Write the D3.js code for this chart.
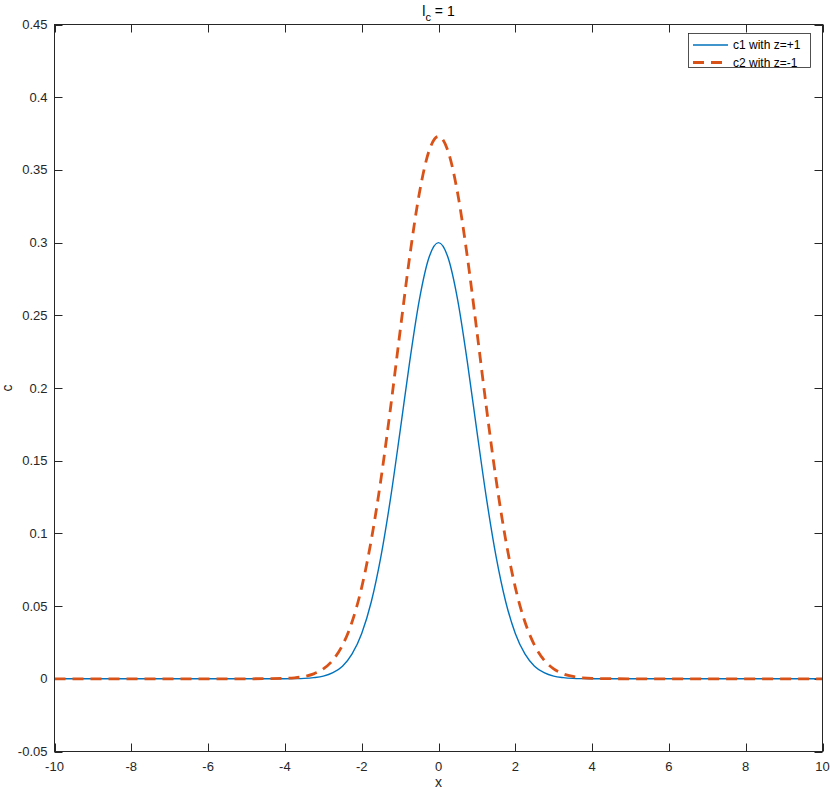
<!DOCTYPE html>
<html><head><meta charset="utf-8">
<script src="https://cdn.jsdelivr.net/npm/d3@7"></script>
<style>body{margin:0;background:#fff}svg{display:block;font-family:"Liberation Sans",Arial,sans-serif}</style>
</head><body><svg id="c" width="830" height="789"></svg>
<script>
const xValues = [-10,-8,-6,-5,-4.5,-4,-3.75,-3.5,-3.25,-3,-2.75,-2.5,-2.25,-2,-1.75,-1.5,-1.25,-1,-0.75,-0.5,-0.25,0,0.25,0.5,0.75,1,1.25,1.5,1.75,2,2.25,2.5,2.75,3,3.25,3.5,3.75,4,4.5,5,6,8,10];
const c1Values = [0,0,0,0,0,0,0.0001,0.0003,0.0008,0.0018,0.0042,0.0087,0.0171,0.0312,0.0530,0.0840,0.1239,0.1703,0.2182,0.2605,0.2896,0.300,0.2896,0.2605,0.2182,0.1703,0.1239,0.0840,0.0530,0.0312,0.0171,0.0087,0.0042,0.0018,0.0008,0.0003,0.0001,0,0,0,0,0,0];
const c2Values = [0,0,0,0,0.0001,0.0003,0.0007,0.0016,0.0034,0.0068,0.0129,0.0231,0.0392,0.0629,0.0955,0.1370,0.1861,0.2390,0.2904,0.3337,0.3628,0.373,0.3628,0.3337,0.2904,0.2390,0.1861,0.1370,0.0955,0.0629,0.0392,0.0231,0.0129,0.0068,0.0034,0.0016,0.0007,0.0003,0.0001,0,0,0,0];
const xTicks = [-10,-8,-6,-4,-2,0,2,4,6,8,10];
const yTicks = [-0.05,0,0.05,0.1,0.15,0.2,0.25,0.3,0.35,0.4,0.45];
const seriesNames = ["c1 with z=+1","c2 with z=-1"];
const colors = ["#0072BD","#D95319"];

const svg = d3.select("#c");
const L=54.5,R=822.5,T=24.5,B=751.5;
const x = d3.scaleLinear().domain([-10,10]).range([L,R]);
const y = d3.scaleLinear().domain([-0.05,0.45]).range([B,T]);
const axCol="#262626", tickLen=8;
const g = svg.append("g");

const fmt = d => (Math.round(d*100)/100).toString();
xTicks.forEach(t=>{
  const px=Math.round(x(t))+0.5;
  g.append("line").attr("x1",px).attr("x2",px).attr("y1",B).attr("y2",B-tickLen).attr("stroke",axCol);
  g.append("line").attr("x1",px).attr("x2",px).attr("y1",T).attr("y2",T+tickLen).attr("stroke",axCol);
  g.append("text").attr("x",x(t)).attr("y",B+19).attr("text-anchor","middle").attr("font-size",13).attr("fill",axCol).text(fmt(t));
});
yTicks.forEach(t=>{
  const py=Math.round(y(t))+0.5;
  g.append("line").attr("x1",L).attr("x2",L+tickLen).attr("y1",py).attr("y2",py).attr("stroke",axCol);
  g.append("line").attr("x1",R).attr("x2",R-tickLen).attr("y1",py).attr("y2",py).attr("stroke",axCol);
  g.append("text").attr("x",L-7).attr("y",y(t)+4.5).attr("text-anchor","end").attr("font-size",13).attr("fill",axCol).text(fmt(t));
});

const data1 = xValues.map((v,i)=>[v,c1Values[i]]);
const data2 = xValues.map((v,i)=>[v,c2Values[i]]);
const line = d3.line().x(d=>x(d[0])).y(d=>y(d[1])).curve(d3.curveMonotoneX);
g.append("path").datum(data1).attr("d",line).attr("fill","none").attr("stroke",colors[0]).attr("stroke-width",1.4);
g.append("path").datum(data2).attr("d",line).attr("fill","none").attr("stroke",colors[1]).attr("stroke-width",2.8).attr("stroke-dasharray","11,7");

g.append("rect").attr("x",L).attr("y",T).attr("width",R-L).attr("height",B-T).attr("fill","none").attr("stroke",axCol).attr("stroke-width",1);

g.append("text").attr("x",(L+R)/2).attr("y",787).attr("text-anchor","middle").attr("font-size",14).attr("fill",axCol).text("x");
g.append("text").attr("transform",`translate(12,${(T+B)/2}) rotate(-90)`).attr("text-anchor","middle").attr("font-size",14).attr("fill",axCol).text("c");
const title = g.append("text").attr("x",(L+R)/2).attr("y",16).attr("text-anchor","middle").attr("font-size",14).attr("fill","#000");
title.append("tspan").text("l");
title.append("tspan").attr("dy",5).attr("font-size",11).text("c");
title.append("tspan").attr("dy",-5).text(" = 1");

const lg = g.append("g");
lg.append("rect").attr("x",688.5).attr("y",33.5).attr("width",122).attr("height",34).attr("fill","#fff").attr("stroke",axCol).attr("stroke-width",0.8);
[45,62.5].forEach((ry,i)=>{
  const ln = lg.append("line").attr("x1",693).attr("x2",728).attr("y1",ry).attr("y2",ry).attr("stroke",colors[i]).attr("stroke-width",i?2.8:1.4);
  if(i) ln.attr("stroke-dasharray","11,7");
  lg.append("text").attr("x",733).attr("y",ry+4.2).attr("font-size",12).attr("fill","#000").text(seriesNames[i]);
});
</script></body></html>
